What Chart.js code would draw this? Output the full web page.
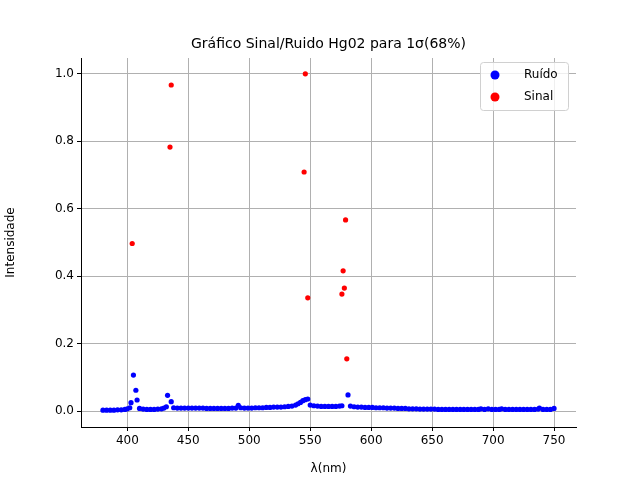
<!DOCTYPE html>
<html><head><script src="https://cdn.jsdelivr.net/npm/chart.js@4"></script>
<style>body{margin:0;background:#fff}</style></head>
<body><canvas id="c" width="640" height="480"></canvas>
<script>
const noiseX=[380,383,386,389,392,395,398,400,402,403,405,407,408,410,413,416,419,422,425,428,430,432,433,436,438,441,444,447,450,453,456,459,462,465,468,471,474,477,480,483,486,489,491,493,496,499,502,505,508,511,514,517,520,523,526,529,532,535,538,540,542,544,546,548,550,553,556,559,562,565,568,571,574,576,581,583,586,589,592,595,598,601,604,607,610,613,616,619,622,625,628,631,634,637,640,643,646,649,652,655,658,661,664,667,670,673,676,679,682,685,688,690,693,696,699,702,705,707,710,713,716,719,722,725,728,731,734,737,738,741,744,747,750];
const noiseY=[0.003,0.003,0.003,0.003,0.004,0.004,0.005,0.007,0.01,0.025,0.107,0.062,0.033,0.008,0.006,0.005,0.005,0.005,0.006,0.007,0.009,0.013,0.047,0.028,0.01,0.009,0.009,0.009,0.009,0.009,0.009,0.009,0.009,0.008,0.008,0.008,0.008,0.008,0.008,0.008,0.009,0.009,0.017,0.01,0.009,0.009,0.009,0.01,0.01,0.01,0.011,0.011,0.012,0.012,0.012,0.013,0.014,0.015,0.018,0.022,0.026,0.031,0.034,0.036,0.018,0.016,0.015,0.014,0.014,0.014,0.014,0.014,0.015,0.016,0.048,0.015,0.013,0.012,0.012,0.011,0.011,0.011,0.01,0.01,0.01,0.009,0.009,0.009,0.008,0.008,0.008,0.007,0.007,0.007,0.006,0.006,0.006,0.006,0.006,0.005,0.005,0.005,0.005,0.005,0.005,0.005,0.005,0.005,0.005,0.005,0.005,0.007,0.005,0.007,0.005,0.005,0.005,0.007,0.005,0.005,0.005,0.005,0.005,0.005,0.005,0.005,0.005,0.006,0.009,0.005,0.005,0.005,0.008];
const signalX=[404,435,436,545,546,548,576,577,578,579,580];
const signalY=[0.497,0.783,0.967,0.709,1.0,0.336,0.347,0.416,0.365,0.567,0.155];
const xTicks=[400,450,500,550,600,650,700,750];
const yTicks=[0,0.2,0.4,0.6,0.8,1.0];
const titleText='Gráfico Sinal/Ruido Hg02 para 1σ(68%)';
const seriesNames=['Ruído','Sinal'];
const pts=(xs,ys)=>xs.map((x,i)=>({x,y:ys[i]}));
Chart.defaults.font.family='DejaVu Sans';Chart.defaults.font.size=12;Chart.defaults.color='#000';
const deco={id:'deco',afterDraw(ch){const c=ch.ctx;c.save();
c.font='14px DejaVu Sans';c.fillStyle='#000';c.textAlign='center';c.textBaseline='middle';
c.fillText(titleText,(ch.chartArea.left+ch.chartArea.right)/2,44);
const bx=480,by=62,bw=88,bh=48;c.fillStyle='rgba(255,255,255,0.8)';c.strokeStyle='#d0d0d0';c.lineWidth=1;
c.beginPath();c.roundRect(bx+0.5,by+0.5,bw,bh,3);c.fill();c.stroke();
c.font='12px DejaVu Sans';c.textAlign='left';
seriesNames.forEach((n,i)=>{const y=by+13+i*22;c.fillStyle=i?'#ff0000':'#0000ff';c.beginPath();c.arc(bx+15,y,4.5,0,7);c.fill();c.fillStyle='#000';c.fillText(n,bx+44,y);});
c.restore();}};
new Chart(document.getElementById('c'),{type:'scatter',plugins:[deco],
data:{datasets:[
{label:seriesNames[0],data:pts(noiseX,noiseY),backgroundColor:'#0000ff',borderWidth:0,pointRadius:2.6},
{label:seriesNames[1],data:pts(signalX,signalY),backgroundColor:'#ff0000',borderWidth:0,pointRadius:2.6}]},
options:{responsive:false,animation:false,devicePixelRatio:1,
layout:{padding:{left:0,right:64,top:58,bottom:0}},
plugins:{title:{display:false},legend:{display:false},tooltip:{enabled:false}},
scales:{x:{min:362,max:768,afterFit:s=>{s.height=53},afterBuildTicks:a=>{a.ticks=xTicks.map(v=>({value:v}))},ticks:{maxRotation:0,padding:3},title:{display:true,text:'λ(nm)',padding:{top:2}},grid:{color:'#b0b0b0',tickColor:'#000',tickLength:4},border:{color:'#000'}},
y:{min:-0.047,max:1.047,afterFit:s=>{s.width=81},afterBuildTicks:a=>{a.ticks=yTicks.map(v=>({value:v}))},ticks:{callback:v=>v.toFixed(1),padding:3},title:{display:true,text:'Intensidade'},grid:{color:'#b0b0b0',tickColor:'#000',tickLength:4},border:{color:'#000'}}}}});
</script></body></html>
